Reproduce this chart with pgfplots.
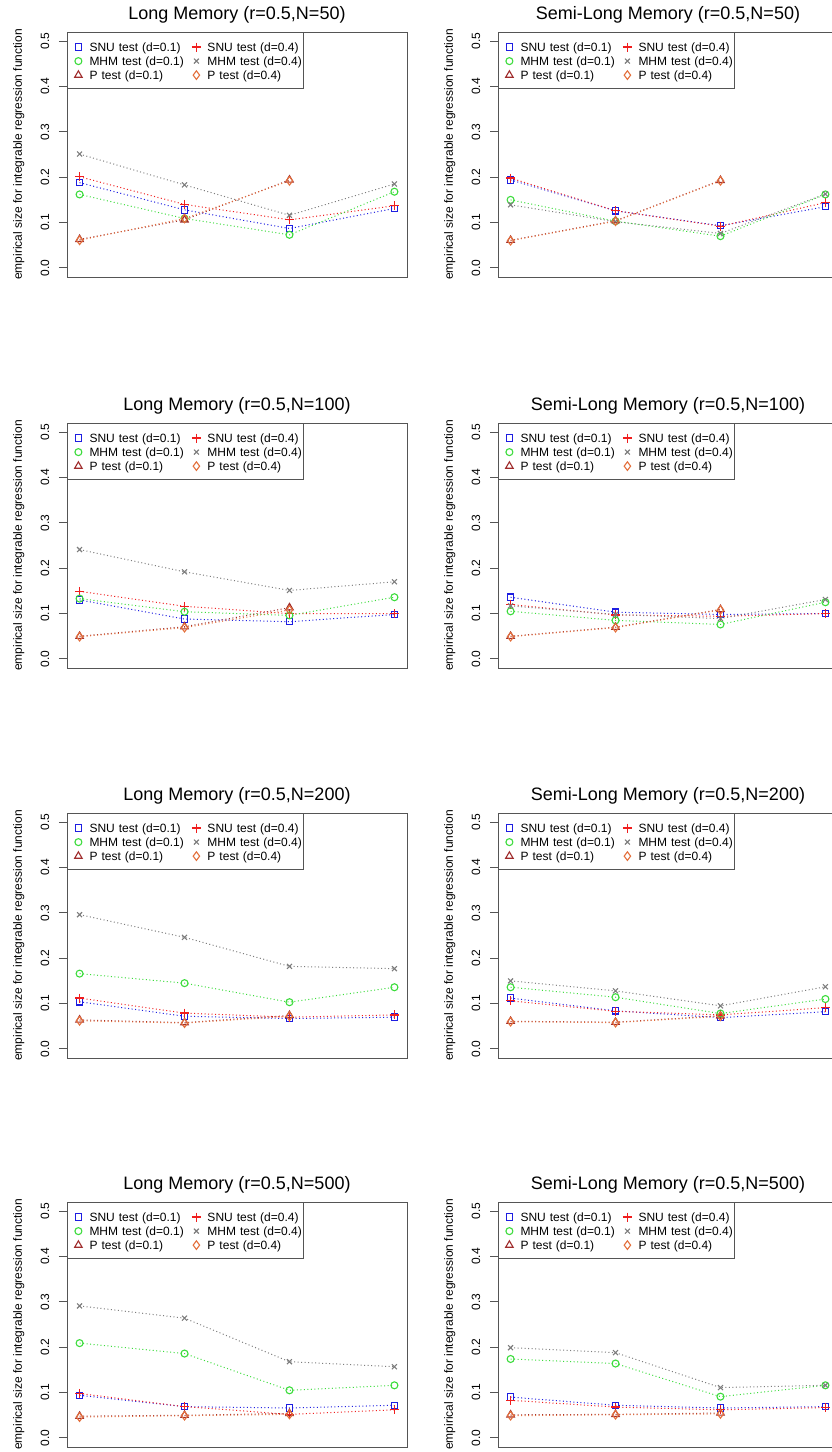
\documentclass[border=0pt]{standalone}
\usepackage{fontspec}
\setmainfont{Liberation Sans}
\usepackage{pgfplots}
\usepackage{pgfplotstable}
\pgfplotsset{compat=1.18}

\definecolor{cSa}{RGB}{30,30,225}
\definecolor{cSb}{RGB}{240,30,30}
\definecolor{cMa}{RGB}{60,220,60}
\definecolor{cMb}{RGB}{125,125,125}
\definecolor{cPa}{RGB}{160,45,45}
\definecolor{cPb}{RGB}{228,112,60}
\definecolor{frame}{RGB}{85,85,85}

% columns: x, SNU d=0.1, MHM d=0.1, P d=0.1, SNU d=0.4, MHM d=0.4, P d=0.4
\pgfplotstableread{
x snua mhma pa snub mhmb pb
1 0.188 0.162 0.063 0.201 0.251 0.061
2 0.128 0.109 0.106 0.140 0.183 0.109
3 0.087 0.073 0.194 0.106 0.116 0.192
4 0.131 0.168 nan 0.137 0.185 nan
}\LNa
\pgfplotstableread{
x snua mhma pa snub mhmb pb
1 0.194 0.150 0.061 0.198 0.139 0.060
2 0.126 0.103 0.104 0.126 0.102 0.103
3 0.093 0.070 0.193 0.092 0.076 0.192
4 0.135 0.162 nan 0.144 0.163 nan
}\SNa
\pgfplotstableread{
x snua mhma pa snub mhmb pb
1 0.130 0.133 0.050 0.149 0.241 0.049
2 0.088 0.104 0.071 0.116 0.192 0.069
3 0.082 0.096 0.113 0.100 0.151 0.108
4 0.098 0.136 nan 0.100 0.170 nan
}\LNb
\pgfplotstableread{
x snua mhma pa snub mhmb pb
1 0.136 0.105 0.050 0.120 0.117 0.049
2 0.103 0.085 0.070 0.097 0.098 0.069
3 0.098 0.076 0.109 0.094 0.089 0.108
4 0.100 0.125 nan 0.100 0.131 nan
}\SNb
\pgfplotstableread{
x snua mhma pa snub mhmb pb
1 0.104 0.166 0.064 0.112 0.296 0.062
2 0.072 0.145 0.058 0.079 0.246 0.057
3 0.067 0.103 0.074 0.070 0.182 0.072
4 0.070 0.136 nan 0.075 0.177 nan
}\LNc
\pgfplotstableread{
x snua mhma pa snub mhmb pb
1 0.112 0.136 0.061 0.106 0.150 0.060
2 0.084 0.114 0.059 0.083 0.128 0.058
3 0.069 0.078 0.073 0.075 0.095 0.072
4 0.082 0.110 nan 0.091 0.137 nan
}\SNc
\pgfplotstableread{
x snua mhma pa snub mhmb pb
1 0.094 0.209 0.048 0.098 0.291 0.046
2 0.069 0.186 0.050 0.069 0.264 0.049
3 0.066 0.105 0.054 0.052 0.168 0.052
4 0.072 0.116 nan 0.062 0.157 nan
}\LNd
\pgfplotstableread{
x snua mhma pa snub mhmb pb
1 0.090 0.174 0.051 0.083 0.199 0.049
2 0.072 0.164 0.052 0.068 0.188 0.051
3 0.066 0.091 0.055 0.062 0.111 0.053
4 0.069 0.116 nan 0.067 0.116 nan
}\SNd

\pgfplotsset{
  panel/.style={
    scale only axis, width=340pt, height=245pt,
    anchor=south west,
    xmin=0.88, xmax=4.12, ymin=-0.02, ymax=0.52,
    xtick=\empty,
    ytick={0,0.1,0.2,0.3,0.4,0.5},
    yticklabels={0.0,0.1,0.2,0.3,0.4,0.5},
    ytick pos=left,
    tick align=outside, major tick length=8pt,
    ytick style={frame, line width=1pt},
    axis line style={frame, line width=1pt},
    yticklabel style={font=\fontsize{12}{14}\selectfont, inner sep=0pt, anchor=center, xshift=-14pt, rotate=90},
    ylabel={empirical size for integrable regression function},
    every axis y label/.style={at={(axis description cs:-0.142,0.5)}, rotate=90, anchor=center, font=\fontsize{12}{14}\selectfont},
    every axis title/.style={at={(axis description cs:0.5,1)}, anchor=base, yshift=13pt, font=\fontsize{18}{21}\selectfont},
    legend columns=2,
    legend cell align=left,
    legend style={at={(axis description cs:0,1)}, anchor=north west, draw=frame, line width=1pt, fill=white,
      inner xsep=0pt, inner ysep=7pt, font=\fontsize{12}{14}\selectfont,
      nodes={inner sep=0pt, text height=12pt, text depth=2pt, text width=96pt, align=left},
      /tikz/column sep=0pt, /tikz/row sep=0pt},
    legend image code/.code={%
      \draw[##1, draw opacity=0] (-10pt,-5pt) rectangle (11pt,5pt);
      \draw[##1] plot coordinates {(0.4pt,-0.6pt)};
      \draw[##1, draw opacity=0] (-10pt,-5pt) rectangle (11pt,5pt);},
    unbounded coords=discard,
  },
  dots/.style={line width=1pt, dash pattern=on 1pt off 2.5pt},
  sa/.style={dots, color=cSa, mark=square, mark size=3.2pt, mark options={solid, line width=1.1pt, draw=cSa, fill=none}},
  sb/.style={dots, color=cSb, mark=+, mark size=4.5pt, mark options={solid, line width=1.3pt, draw=cSb, fill=none}},
  ma/.style={dots, color=cMa, mark=o, mark size=3.5pt, mark options={solid, line width=1.1pt, draw=cMa, fill=none}},
  mb/.style={dots, color=cMb, mark=x, mark size=3.5pt, mark options={solid, line width=1.1pt, draw=cMb, fill=none}},
  pa/.style={dots, color=cPa, mark=triangle, mark size=4.3pt, mark options={solid, line width=1.1pt, draw=cPa, fill=none}},
  pb/.style={dots, color=cPb, mark=diamond, mark size=4.3pt, mark options={solid, line width=1.1pt, draw=cPb, fill=none}},
}

\newcommand{\panel}[4]{%
\begin{axis}[panel, at={(#1pt,#2pt)}, title={#3}]
  \addplot[sa] table[x=x,y=snua]{#4};
  \addplot[sb] table[x=x,y=snub]{#4};
  \addplot[ma] table[x=x,y=mhma]{#4};
  \addplot[mb] table[x=x,y=mhmb]{#4};
  \addplot[pa] table[x=x,y=pa]{#4};
  \addplot[pb] table[x=x,y=pb]{#4};
  \legend{SNU test (d=0.1),SNU test (d=0.4),MHM test (d=0.1),MHM test (d=0.4),P test (d=0.1),P test (d=0.4)}
\end{axis}}

\begin{document}
\begin{tikzpicture}
\panel{67}{-277}{Long Memory (r=0.5,N=50)}{\LNa}
\panel{498}{-277}{Semi-Long Memory (r=0.5,N=50)}{\SNa}
\panel{67}{-668}{Long Memory (r=0.5,N=100)}{\LNb}
\panel{498}{-668}{Semi-Long Memory (r=0.5,N=100)}{\SNb}
\panel{67}{-1058}{Long Memory (r=0.5,N=200)}{\LNc}
\panel{498}{-1058}{Semi-Long Memory (r=0.5,N=200)}{\SNc}
\panel{67}{-1447}{Long Memory (r=0.5,N=500)}{\LNd}
\panel{498}{-1447}{Semi-Long Memory (r=0.5,N=500)}{\SNd}
\pgfresetboundingbox
\useasboundingbox (0pt,0pt) rectangle (831pt,-1452pt);
\end{tikzpicture}
\end{document}
